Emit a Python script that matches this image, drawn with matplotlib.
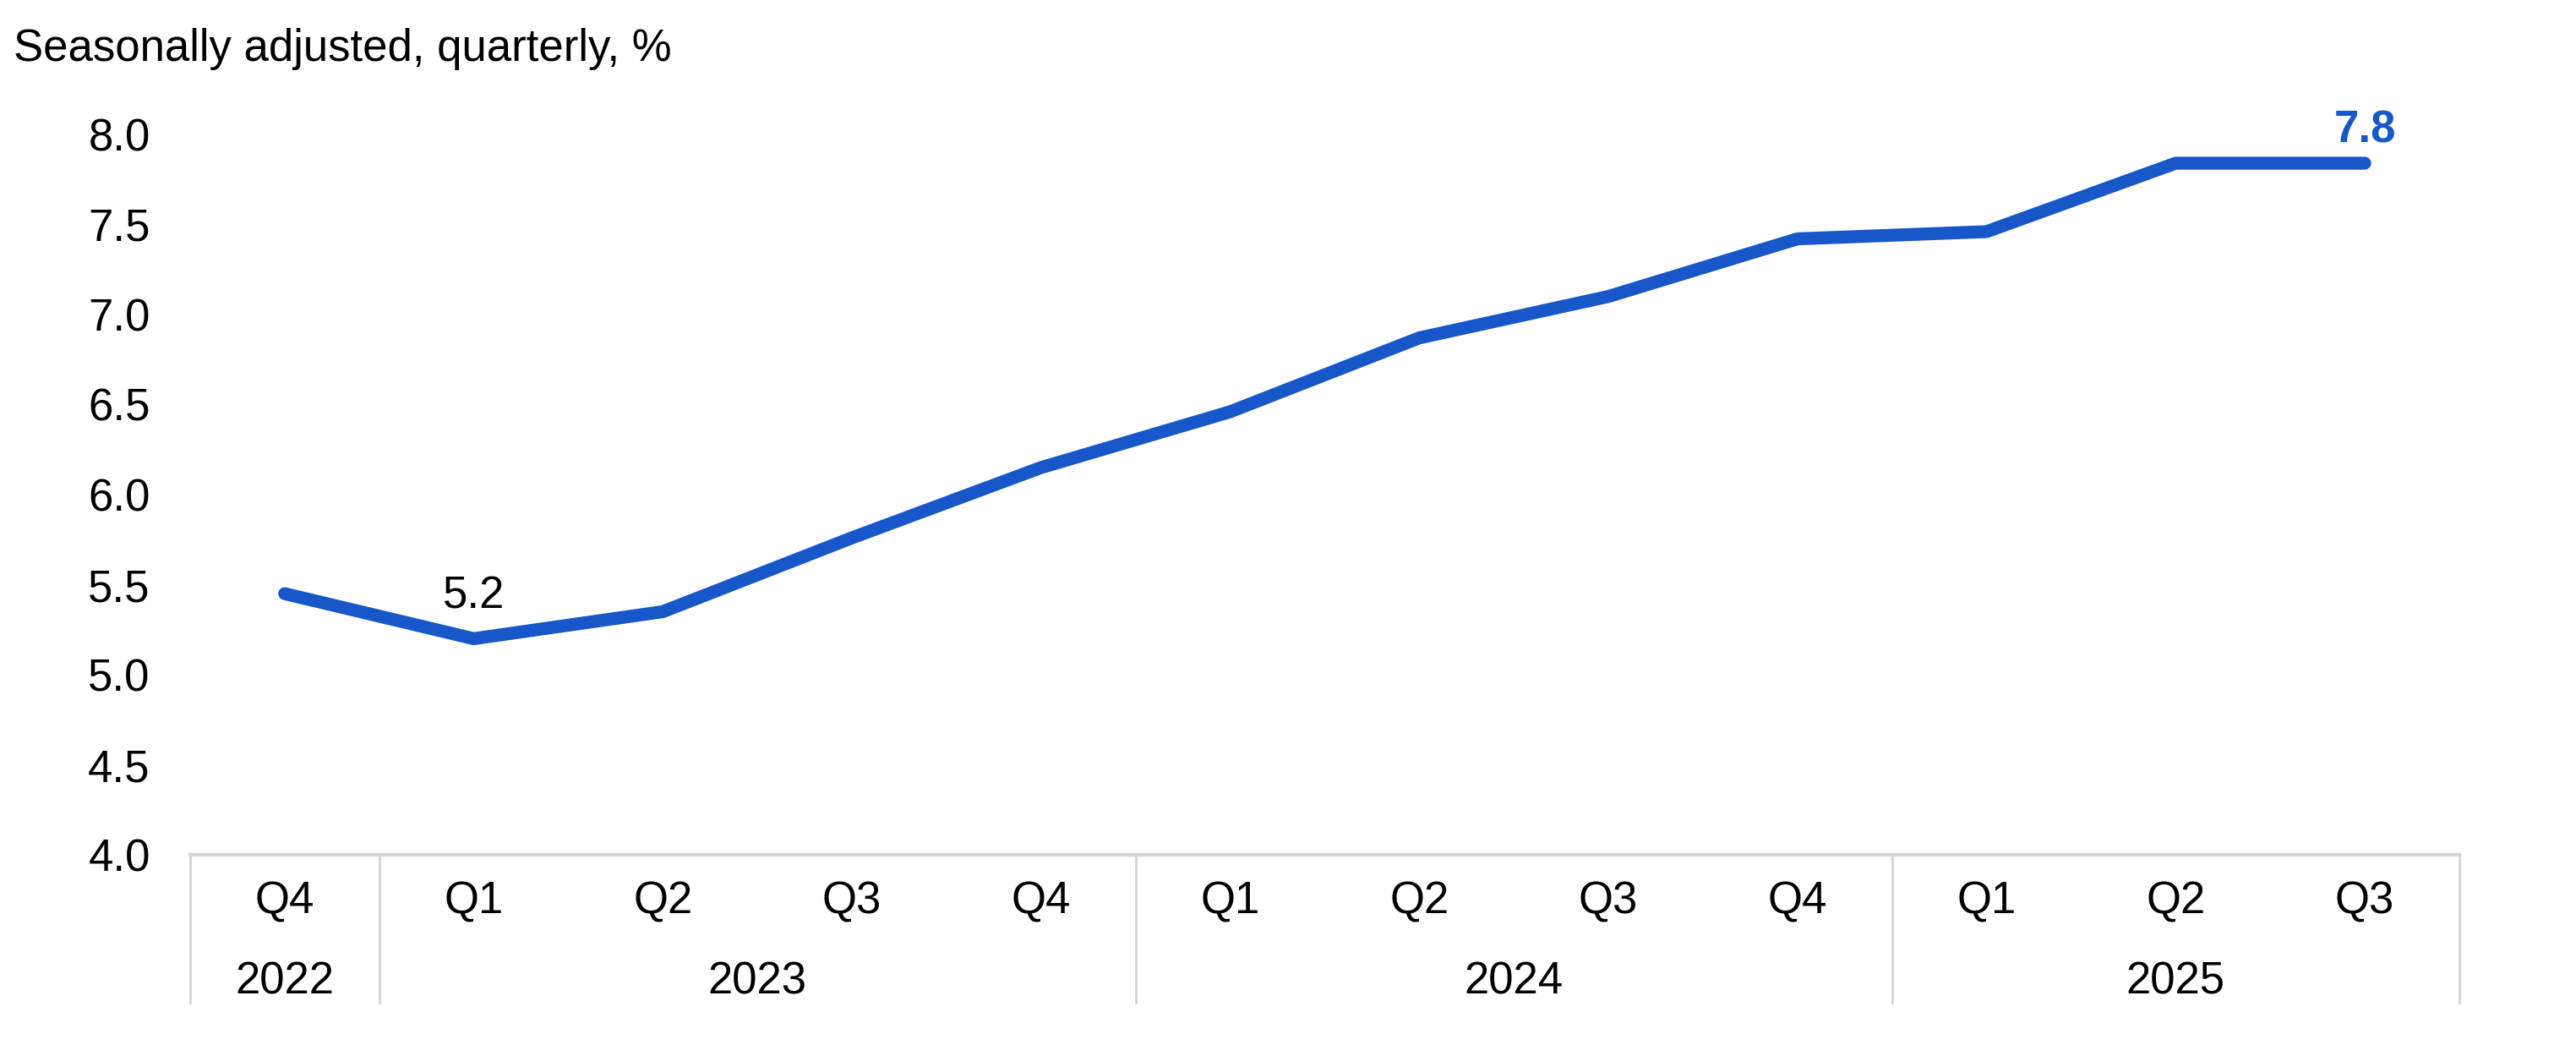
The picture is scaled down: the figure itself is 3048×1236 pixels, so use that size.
"""Seasonally adjusted quarterly rate, Q4 2022 - Q3 2025."""

import matplotlib

matplotlib.use("Agg")
import matplotlib.pyplot as plt

QUARTERS = ["Q4", "Q1", "Q2", "Q3", "Q4", "Q1", "Q2", "Q3", "Q4", "Q1", "Q2", "Q3"]
YEARS = ["2022", "2023", "2024", "2025"]
YEAR_SPANS = [1, 4, 4, 3]
VALUES = [5.45, 5.2, 5.35, 5.76, 6.15, 6.46, 6.87, 7.1, 7.42, 7.46, 7.84, 7.84]
Y_TICKS = [4.0, 4.5, 5.0, 5.5, 6.0, 6.5, 7.0, 7.5, 8.0]

BLUE = "#1757c9"
GREY = "#d4d4d4"
FONT = 38

plt.rcParams["font.family"] = ["Liberation Sans", "DejaVu Sans"]

fig = plt.figure(figsize=(30.48, 12.36), dpi=100)
ax = fig.add_axes([0.0738, 0.182, 0.8809, 0.6894])

x = list(range(len(VALUES)))
ax.plot(x, VALUES, color=BLUE, lw=11, solid_capstyle="round", solid_joinstyle="round",
        clip_on=False, zorder=3)

ax.set_xlim(-0.5, len(VALUES) - 0.5)
ax.set_ylim(4.0, 8.0)
ax.set_yticks(Y_TICKS)
ax.set_yticklabels([f"{v:.1f}" for v in Y_TICKS])
ax.set_xticks(x)
ax.set_xticklabels(QUARTERS)
ax.tick_params(axis="y", length=0, pad=34, labelsize=FONT)
ax.tick_params(axis="x", length=0, pad=22, labelsize=FONT)

for side in ("left", "right", "top"):
    ax.spines[side].set_visible(False)
ax.spines["bottom"].set_color(GREY)
ax.spines["bottom"].set_linewidth(3)

# year group labels and separators under the axis
trans = ax.get_xaxis_transform()
start = -0.5
for year, span in zip(YEARS, YEAR_SPANS):
    ax.text(start + span / 2, -0.176, year, transform=trans, ha="center", va="center",
            fontsize=FONT)
    start += span
edges = [-0.5]
for span in YEAR_SPANS:
    edges.append(edges[-1] + span)
for e in edges:
    ax.plot([e, e], [0, -0.205], transform=trans, color=GREY, lw=2, clip_on=False)

# point labels
ax.annotate("5.2", (1, VALUES[1]), xytext=(0, 36), textcoords="offset points",
            ha="center", va="center", fontsize=FONT)
ax.annotate("7.8", (11, VALUES[11]), xytext=(0, 28), textcoords="offset points",
            ha="center", va="center", fontsize=FONT, color=BLUE, fontweight="bold")

fig.text(16 / 3048, 1 - 58 / 1236, "Seasonally adjusted, quarterly, %", ha="left",
         va="center", fontsize=FONT)

fig.savefig("out.png", dpi=100)
